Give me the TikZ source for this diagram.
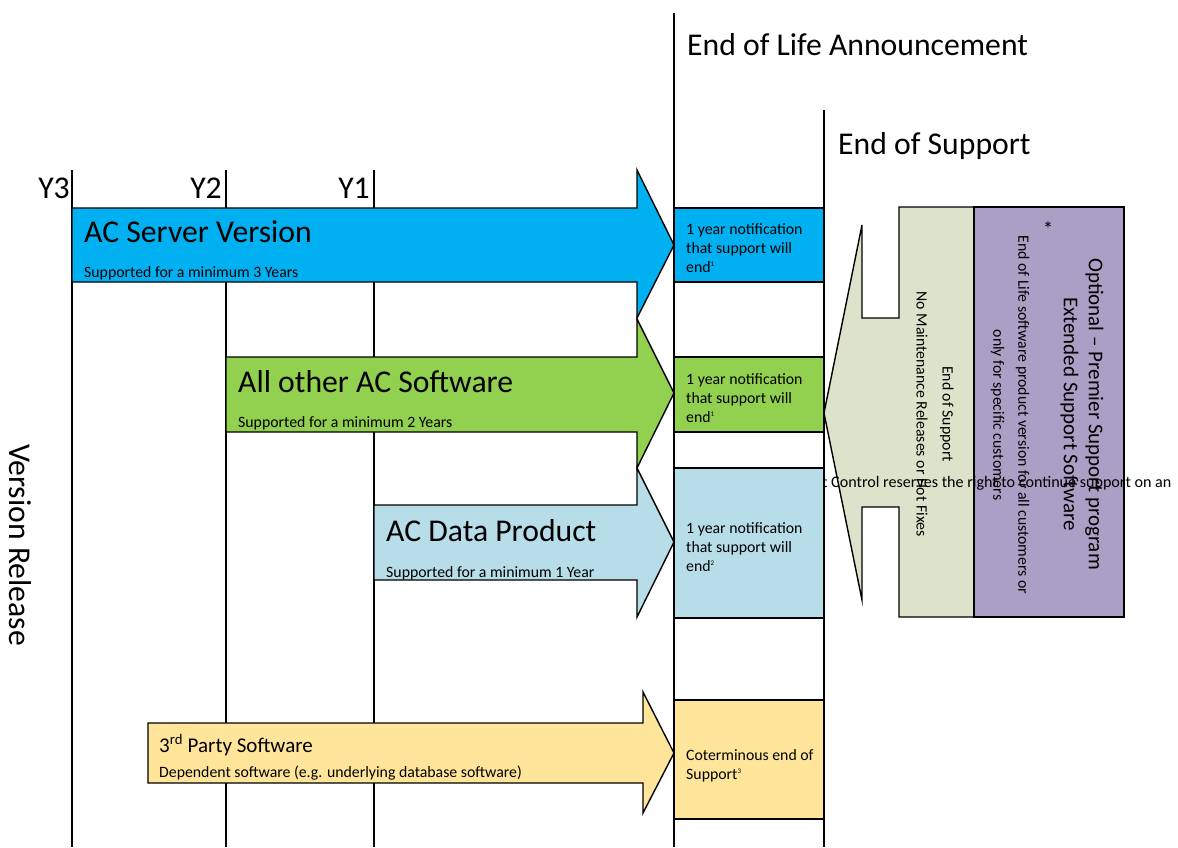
\documentclass[tikz,border=0pt]{standalone}
\usepackage{fontspec}
\setmainfont{Carlito}
\definecolor{serverblue}{HTML}{00B0F0}
\definecolor{softgreen}{HTML}{92D050}
\definecolor{datablue}{HTML}{B7DDE8}
\definecolor{partyyellow}{HTML}{FFE599}
\definecolor{eosgreen}{HTML}{DDE2CA}
\definecolor{premierpurple}{HTML}{AB9FC5}
\newcommand{\notemark}[1]{\textsuperscript{\fontsize{7}{7}\selectfont #1}}
\tikzset{
  shapeline/.style={draw=black, line width=1.4pt, line join=miter},
  bigtext/.style={font=\fontsize{31.7}{38}\selectfont, inner sep=0pt},
  midtext/.style={font=\fontsize{21}{25}\selectfont, inner sep=0pt},
  smalltext/.style={font=\fontsize{15.8}{18.6}\selectfont, inner sep=0pt},
}
\begin{document}
\begin{tikzpicture}[x=1pt, y=-1pt]
\useasboundingbox (0,0) rectangle (1178,847);
% year lines
\foreach \x in {72,226,374}
	\draw[line width=1.4pt] (\x,170) -- (\x,847);
\coordinate (eoltop) at (674,13); \coordinate (eolbottom) at (674,847);
\coordinate (eostop) at (824,110); \coordinate (eosbottom) at (824,847);
\draw[line width=1.4pt] (eoltop) -- (eolbottom);
\draw[line width=1.4pt] (eostop) -- (eosbottom);
\node[bigtext, anchor=base east] (y3) at (70,198) {Y3};
\node[bigtext, anchor=base east] (y2) at (222,198) {Y2};
\node[bigtext, anchor=base east] (y1) at (370,198) {Y1};
\node[bigtext, anchor=base west] (eol) at (687,55) {End of Life Announcement};
\node[bigtext, anchor=base west] (eos) at (838,154) {End of Support};
\node[bigtext, rotate=-90] (release) at (20,545) {Version Release};
% block arrows
\draw[shapeline, fill=serverblue] (72,208) -- (637,208) -- (637,170) -- (674,245) -- (637,318) -- (637,282) -- (72,282) -- cycle;
\draw[shapeline, fill=softgreen] (226,357) -- (637,357) -- (637,319) -- (674,393) -- (637,468) -- (637,432) -- (226,432) -- cycle;
\draw[shapeline, fill=datablue] (374,505) -- (637,505) -- (637,468) -- (674,542) -- (637,617) -- (637,580) -- (374,580) -- cycle;
\draw[shapeline, fill=partyyellow] (148,723) -- (643,723) -- (643,692) -- (674,753) -- (643,813) -- (643,783) -- (148,783) -- cycle;
\node[bigtext, anchor=base west] (server) at (84,242) {AC Server Version};
\node[smalltext, anchor=base west] (serverinfo) at (84,277) {Supported for a minimum 3 Years};
\node[bigtext, anchor=base west] (software) at (238,392) {All other AC Software};
\node[smalltext, anchor=base west] (softwareinfo) at (238,427) {Supported for a minimum 2 Years};
\node[bigtext, anchor=base west] (data) at (386,541) {AC Data Product};
\node[smalltext, anchor=base west] (datainfo) at (386,577) {Supported for a minimum 1 Year};
\node[midtext, anchor=base west] (party) at (159,752) {3\textsuperscript{rd} Party Software};
\node[smalltext, anchor=base west] (partyinfo) at (159,777) {Dependent software (e.g. underlying database software)};
% extended support
\draw[shapeline, fill=eosgreen] (974,207) -- (899,207) -- (899,318) -- (862,318) -- (862,225) -- (824,413) -- (862,600) -- (862,507) -- (899,507) -- (899,617) -- (974,617) -- cycle;
\draw[shapeline, fill=premierpurple] (974,207) rectangle (1124,617);
\node[smalltext, rotate=-90, align=center, font=\fontsize{15.8}{26}\selectfont] (nosupport) at (935,414) {End of Support\\No Maintenance Releases or Hot Fixes};
\node[midtext, rotate=-90, align=center] (premier) at (1082,414) {Optional \textendash{} Premier Support program\\Extended Support Software};
\node[midtext, anchor=center] (star) at (1048,229) {*};
\node[smalltext, rotate=-90, align=center, font=\fontsize{15.8}{25}\selectfont] (premierinfo) at (1010,415) {End of Life software product version for all customers or\\only for specific customers};
\node[smalltext, anchor=base west, font=\fontsize{16.1}{19}\selectfont] (reserve) at (822,487) {t Control reserves the right to continue support on an};
% notification boxes
\draw[shapeline, fill=serverblue] (674,208) rectangle (824,282);
\draw[shapeline, fill=softgreen] (674,357) rectangle (824,432);
\draw[shapeline, fill=datablue] (674,468) rectangle (824,618);
\draw[shapeline, fill=partyyellow] (674,700) rectangle (824,819);
\node[smalltext, anchor=base west, align=left] (servernote) at (686,272) {1 year notification\\that support will\\end\notemark{1}};
\node[smalltext, anchor=base west, align=left] (softwarenote) at (686,422) {1 year notification\\that support will\\end\notemark{1}};
\node[smalltext, anchor=base west, align=left] (datanote) at (686,571) {1 year notification\\that support will\\end\notemark{2}};
\node[smalltext, anchor=base west, align=left] (partynote) at (686,779) {Coterminous end of\\Support\notemark{3}};
\end{tikzpicture}
\end{document}
